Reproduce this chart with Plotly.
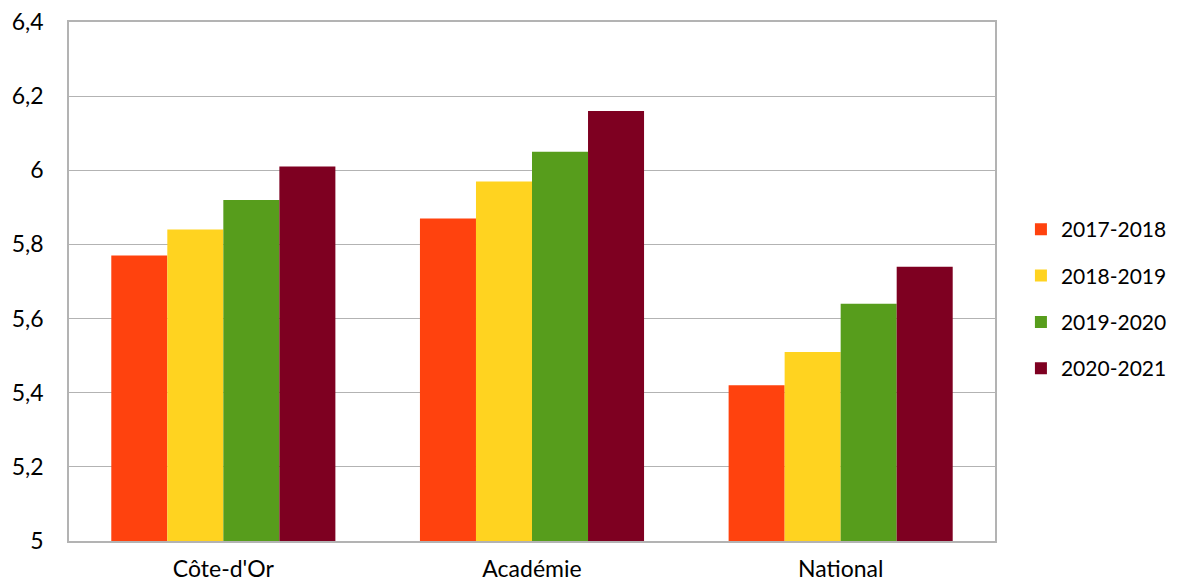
import plotly.graph_objects as go

categories = ["Côte-d'Or", "Académie", "National"]
series_names = ["2017-2018", "2018-2019", "2019-2020", "2020-2021"]
values_2017_2018 = [5.77, 5.87, 5.42]
values_2018_2019 = [5.84, 5.97, 5.51]
values_2019_2020 = [5.92, 6.05, 5.64]
values_2020_2021 = [6.01, 6.16, 5.74]
series_values = [values_2017_2018, values_2018_2019, values_2019_2020, values_2020_2021]
colors = ["#ff420e", "#ffd320", "#579d1c", "#7e0021"]
y_ticks = [5, 5.2, 5.4, 5.6, 5.8, 6, 6.2, 6.4]
y_tick_labels = ["5", "5,2", "5,4", "5,6", "5,8", "6", "6,2", "6,4"]

fig = go.Figure()
for name, vals, col in zip(series_names, series_values, colors):
    fig.add_trace(go.Bar(x=categories, y=vals, name=name, marker=dict(color=col, line=dict(width=0)),
                         legendgroup=name))

font = "Lato, 'Open Sans', sans-serif"
fig.update_layout(
    width=1170, height=576,
    margin=dict(l=61, r=183, t=14, b=43, autoexpand=False),
    paper_bgcolor="white", plot_bgcolor="white",
    barmode="group", bargap=0.274, bargroupgap=0,
    font=dict(family=font, size=22, color="#000000"),
    showlegend=True,
    legend=dict(x=1.028, y=0.466, xanchor="left", yanchor="middle", tracegroupgap=16,
                font=dict(size=21), itemwidth=30, traceorder="grouped"),
    xaxis=dict(showgrid=False, showline=True, linecolor="#b3b3b3", linewidth=1.5, mirror=True,
               ticks="", tickfont=dict(size=23), ticklabelstandoff=7, automargin=False,
               ticklabeloverflow="allow"),
    yaxis=dict(range=[5, 6.4], tickvals=y_ticks, ticktext=y_tick_labels, showgrid=True,
               gridcolor="#b3b3b3", gridwidth=1, showline=True, linecolor="#b3b3b3", linewidth=1.5,
               mirror=True, zeroline=False, ticks="", tickfont=dict(size=23), ticklabelstandoff=19,
               automargin=False, ticklabeloverflow="allow"),
)
fig.write_html("out.html")
